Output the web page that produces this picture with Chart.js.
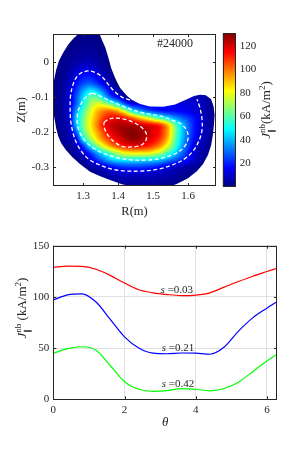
<!DOCTYPE html>
<html lang="en">
<head>
<meta charset="UTF-8">
<title>J_par nb - shot 24000</title>
<script src="https://cdn.jsdelivr.net/npm/chart.js"></script>
<style>
  body { margin: 0; background: #fff; }
  #wrap { position: relative; width: 291px; height: 449px; overflow: hidden; }
  canvas { position: absolute; }
  #top { left: 0; top: 0; }
  #cbar { left: 215px; top: 0; }
  #bot { left: 0; top: 230px; }
</style>
</head>
<body>
<div id="wrap">
  <canvas id="top" width="222" height="222"></canvas>
  <canvas id="cbar" width="76" height="222"></canvas>
  <canvas id="bot" width="291" height="219"></canvas>
</div>
<script>
// ---------- top panel: J_par^nb on the poloidal plane (kA/m^2), read on a 0.02 m grid
const gridR = [1.22, 1.24, 1.26, 1.28, 1.30, 1.32, 1.34, 1.36, 1.38, 1.40, 1.42, 1.44,
               1.46, 1.48, 1.50, 1.52, 1.54, 1.56, 1.58, 1.60, 1.62, 1.64, 1.66, 1.68];
const gridZ = [0.08, 0.06, 0.04, 0.02, 0, -0.02, -0.04, -0.06, -0.08, -0.10, -0.12, -0.14,
               -0.16, -0.18, -0.20, -0.22, -0.24, -0.26, -0.28, -0.30, -0.32, -0.34, -0.36];
const jGrid = [
  [1,1,1,1,2,2,1,1,1,1,1,1,1,1,1,1,1,1,1,1,1,1,1,1],
  [1,1,1,1,2,2,1,1,1,1,1,1,1,1,1,1,1,1,1,1,1,1,1,1],
  [1,1,1,2,3,3,2,1,1,1,1,1,1,1,1,1,1,1,1,1,1,1,1,1],
  [1,1,2,3,4,4,3,2,1,1,1,1,1,1,1,1,1,1,1,1,1,1,1,1],
  [1,2,3,5,7,7,5,3,1,1,1,1,1,1,1,1,1,1,1,1,1,1,1,1],
  [1,2,4,8,12,12,9,4,2,1,1,1,1,1,1,1,1,1,1,1,1,1,1,1],
  [1,2,6,13,18,19,14,9,3,1,1,1,1,1,1,1,1,1,1,1,1,1,1,1],
  [1,3,8,17,25,28,22,13,5,1,1,1,1,1,1,1,1,1,1,1,1,1,1,1],
  [1,3,10,22,36,45,40,27,13,5,1,1,1,1,1,1,1,1,1,1,1,1,1,1],
  [1,4,11,26,45,60,60,44,26,15,6,1,1,1,1,1,1,1,1,6,8,6,3,1],
  [1,4,11,28,50,68,78,74,62,48,28,16,14,14,14,14,14,14,12,12,11,8,4,1],
  [1,4,12,36,58,76,90,98,100,92,75,52,40,30,24,20,18,17,16,14,11,7,4,1],
  [1,4,11,42,62,80,95,108,114,116,112,102,90,80,68,58,48,38,30,24,17,10,5,1],
  [1,5,9,40,63,82,98,114,121,124,125,124,122,118,114,108,92,66,45,30,18,10,5,1],
  [1,3,7,28,60,78,93,108,118,124,128,130,128,124,118,112,96,70,46,30,18,10,5,1],
  [1,3,6,15,48,68,85,100,110,117,124,128,127,121,116,108,92,66,44,28,16,9,4,1],
  [1,1,3,8,22,47,66,82,96,106,112,115,115,112,106,96,80,60,40,25,12,6,3,1],
  [1,1,1,5,12,22,38,50,63,74,82,84,84,84,80,72,60,46,32,20,10,5,3,1],
  [1,1,1,2,4,12,22,32,42,47,49,49,48,47,45,42,35,28,22,16,9,4,2,1],
  [1,1,1,1,1,4,8,12,17,21,23,24,24,23,21,17,13,10,7,5,3,1,1,1],
  [1,1,1,1,1,1,2,5,7,9,10,10,10,10,9,8,7,5,4,2,1,1,1,1],
  [1,1,1,1,1,1,1,2,3,4,5,5,5,5,5,4,4,3,2,1,1,1,1,1],
  [1,1,1,1,1,1,1,1,2,2,3,3,3,3,3,2,2,1,1,1,1,1,1,1]
];
// outline of the plotted (crescent) region
const edgeR = [1.346,1.354,1.363,1.369,1.374,1.380,1.389,1.397,1.406,1.426,1.440,1.463,1.491,1.529,1.563,
               1.597,1.617,1.634,1.651,1.666,1.673,1.676,1.674,1.671,1.666,1.657,1.643,1.626,1.600,1.566,
               1.534,1.491,1.449,1.411,1.377,1.349,1.320,1.291,1.269,1.251,1.237,1.229,1.223,1.219,1.214,
               1.213,1.214,1.217,1.223,1.231,1.243,1.257,1.271,1.286,1.300,1.317,1.334];
const edgeZ = [0.084,0.064,0.044,0.024,0.007,-0.016,-0.039,-0.057,-0.074,-0.097,-0.108,-0.120,-0.127,-0.128,-0.121,
               -0.106,-0.097,-0.093,-0.095,-0.106,-0.126,-0.151,-0.180,-0.209,-0.238,-0.266,-0.292,-0.312,-0.333,-0.350,
               -0.360,-0.364,-0.358,-0.350,-0.338,-0.327,-0.314,-0.292,-0.272,-0.252,-0.232,-0.212,-0.189,-0.166,-0.137,
               -0.108,-0.080,-0.051,-0.022,0.004,0.027,0.050,0.067,0.081,0.093,0.100,0.097];
// white dashed contours
const outerR = [1.434,1.411,1.389,1.371,1.354,1.334,1.314,1.294,1.280,1.270,1.264,1.263,1.264,1.270,1.280,
                1.297,1.320,1.349,1.383,1.423,1.469,1.514,1.554,1.589,1.614,1.631,1.640,1.640,1.634,1.626];
const outerZ = [-0.108,-0.100,-0.083,-0.062,-0.042,-0.029,-0.025,-0.031,-0.045,-0.068,-0.097,-0.128,-0.163,-0.197,-0.229,
                -0.258,-0.281,-0.295,-0.307,-0.312,-0.312,-0.307,-0.295,-0.278,-0.255,-0.226,-0.195,-0.163,-0.131,-0.106];
const midR = [1.326,1.349,1.377,1.406,1.434,1.463,1.491,1.520,1.554,1.580,1.597,1.600,1.589,1.566,1.526,
              1.477,1.420,1.371,1.334,1.309,1.291,1.283,1.286,1.297,1.311,1.326];
const midZ = [-0.088,-0.097,-0.111,-0.123,-0.134,-0.143,-0.149,-0.154,-0.166,-0.177,-0.197,-0.220,-0.243,-0.261,-0.275,
              -0.281,-0.278,-0.266,-0.249,-0.229,-0.203,-0.172,-0.140,-0.114,-0.097,-0.088];
const innerR = [1.360,1.374,1.394,1.417,1.443,1.466,1.480,1.480,1.466,1.440,1.411,1.386,1.369,1.360,1.360];
const innerZ = [-0.172,-0.163,-0.160,-0.163,-0.172,-0.186,-0.203,-0.223,-0.238,-0.243,-0.241,-0.226,-0.206,-0.186,-0.172];
const rTicks = [1.3, 1.4, 1.5, 1.6];
const zTicks = [-0.3, -0.2, -0.1, 0];
const cbarMax = 131;
const cbarTicks = [20, 40, 60, 80, 100, 120];
const shotLabel = '#24000';

// ---------- bottom panel: J_par^nb along theta on three surfaces
const theta = [0, 0.4, 0.8, 1.2, 1.6, 2.0, 2.4, 2.8, 3.2, 3.6, 4.0, 4.4, 4.8, 5.2, 5.6, 6.0, 6.283];
const jS003 = [129, 130, 129.8, 127, 121, 113.5, 107, 104, 102.3, 101.3, 101.8, 104, 109.5, 115, 120.2, 124.8, 128];
const jS021 = [97, 102, 103, 95, 78, 61, 50, 45, 44.5, 45.2, 45, 44, 51, 66.5, 79.5, 89, 95.3];
const jS042 = [45, 49.5, 51.3, 48, 33, 17.2, 9.8, 7.8, 8.5, 10.5, 9.8, 8.3, 10.5, 16.7, 27, 37.5, 44];
const sNames = ['0.03', '0.21', '0.42'];
const sTheta = [3.47, 3.5, 3.5];
const sJ = [106.7, 49.8, 15];
const thTicks = [0, 2, 4, 6];
const jTicks = [0, 50, 100, 150];

const SERIF = '"Liberation Serif", "Times New Roman", serif';
const INK = '#262626';

function jet(t) {
  t = Math.min(1, Math.max(0, t));
  const f = v => Math.min(1, Math.max(0, 1.5 - Math.abs(v)));
  return [f(4 * t - 3), f(4 * t - 2), f(4 * t - 1)];
}
function cr(p0, p1, p2, p3, t) {
  return p1 + 0.5 * t * (p2 - p0 + t * (2 * p0 - 5 * p1 + 4 * p2 - p3 + t * (3 * (p1 - p2) + p3 - p0)));
}
function sampleJ(R, Z) {
  const nr = gridR.length, nz = gridZ.length;
  const gx = (R - gridR[0]) / (gridR[1] - gridR[0]);
  const gy = (Z - gridZ[0]) / (gridZ[1] - gridZ[0]);
  const ix = Math.floor(gx), iy = Math.floor(gy);
  const tx = gx - ix, ty = gy - iy;
  const g = (i, j) => jGrid[Math.min(nz - 1, Math.max(0, j))][Math.min(nr - 1, Math.max(0, i))];
  const col = [];
  for (let m = -1; m <= 2; m++) col.push(cr(g(ix - 1, iy + m), g(ix, iy + m), g(ix + 1, iy + m), g(ix + 2, iy + m), tx));
  return Math.max(0, cr(col[0], col[1], col[2], col[3], ty));
}

// text with sub/superscripts, parts: {t, sz, it, dy, stack}
function drawRich(ctx, parts, cx, cy, rot) {
  let x = 0, prev = null;
  const items = parts.map(p => {
    ctx.font = (p.it ? 'italic ' : '') + p.sz + 'px ' + SERIF;
    const w = ctx.measureText(p.t).width;
    const start = p.stack && prev ? prev.start : x;
    x = Math.max(x, start + w);
    prev = {p, start};
    return prev;
  });
  ctx.save();
  ctx.translate(cx, cy);
  ctx.rotate(rot);
  ctx.fillStyle = INK;
  ctx.textAlign = 'left';
  ctx.textBaseline = 'alphabetic';
  items.forEach(it => {
    ctx.font = (it.p.it ? 'italic ' : '') + it.p.sz + 'px ' + SERIF;
    ctx.fillText(it.p.t, it.start - x / 2, 4 + (it.p.dy || 0));
  });
  ctx.restore();
}
const jLabel = sp => [
  {t: 'J', sz: 13, it: true},
  {t: 'nb', sz: 9, dy: -5.5},
  {t: '\u2225', sz: 8, dy: 3.5, stack: true},
  {t: sp + '(kA/m', sz: 13},
  {t: '2', sz: 9, dy: -5.5},
  {t: ')', sz: 13}
];

const heatPlugin = {
  id: 'heat',
  beforeDatasetsDraw(chart) {
    const {ctx, chartArea: a, scales: {x, y}} = chart;
    const x0 = Math.floor(a.left), y0 = Math.floor(a.top);
    const w = Math.ceil(a.right) - x0, h = Math.ceil(a.bottom) - y0;
    const off = document.createElement('canvas');
    off.width = w; off.height = h;
    const octx = off.getContext('2d');
    const img = octx.createImageData(w, h);
    for (let py = 0; py < h; py++) {
      const Z = y.getValueForPixel(y0 + py + 0.5);
      for (let px = 0; px < w; px++) {
        const R = x.getValueForPixel(x0 + px + 0.5);
        const c = jet(sampleJ(R, Z) / cbarMax);
        const k = (py * w + px) * 4;
        img.data[k] = c[0] * 255; img.data[k + 1] = c[1] * 255; img.data[k + 2] = c[2] * 255; img.data[k + 3] = 255;
      }
    }
    octx.putImageData(img, 0, 0);
    ctx.save();
    ctx.beginPath();
    ctx.rect(a.left, a.top, a.right - a.left, a.bottom - a.top);
    ctx.clip();
    ctx.beginPath();
    edgeR.forEach((r, i) => {
      const px = x.getPixelForValue(r), py = y.getPixelForValue(edgeZ[i]);
      i ? ctx.lineTo(px, py) : ctx.moveTo(px, py);
    });
    ctx.closePath();
    ctx.clip();
    ctx.drawImage(off, x0, y0);
    ctx.restore();
  }
};

// axes box with inward tick marks on all four sides
const framePlugin = {
  id: 'frame',
  afterDatasetsDraw(chart, args, opts) {
    const {ctx, chartArea: a, scales} = chart;
    const L = 3;
    ctx.save();
    ctx.strokeStyle = INK;
    ctx.lineWidth = 1;
    ctx.beginPath();
    if (opts.ticks) {
      scales.x.ticks.forEach(t => {
        const p = Math.round(scales.x.getPixelForValue(t.value)) + 0.5;
        ctx.moveTo(p, a.bottom); ctx.lineTo(p, a.bottom - L);
        ctx.moveTo(p, a.top); ctx.lineTo(p, a.top + L);
      });
      scales.y.ticks.forEach(t => {
        const p = Math.round(scales.y.getPixelForValue(t.value)) + 0.5;
        ctx.moveTo(a.left, p); ctx.lineTo(a.left + L, p);
        ctx.moveTo(a.right, p); ctx.lineTo(a.right - L, p);
      });
    }
    ctx.stroke();
    ctx.strokeRect(Math.round(a.left) + 0.5, Math.round(a.top) + 0.5,
                   Math.round(a.right - a.left) - 1, Math.round(a.bottom - a.top) - 1);
    ctx.restore();
  }
};

const contourDs = (rs, zs) => ({
  data: rs.map((r, i) => ({x: r, y: zs[i]})),
  showLine: true, borderColor: '#ffffff', borderWidth: 1.3, borderDash: [4, 2.5],
  pointRadius: 0, tension: 0.35, fill: false
});

const notePlugin = {
  id: 'note',
  afterDraw(chart) {
    const {ctx, scales: {x, y}} = chart;
    ctx.save();
    ctx.font = '12px ' + SERIF;
    ctx.fillStyle = INK;
    ctx.textAlign = 'center';
    ctx.textBaseline = 'middle';
    ctx.fillText(shotLabel, x.getPixelForValue(1.563), y.getPixelForValue(0.053));
    ctx.restore();
  }
};

new Chart(document.getElementById('top'), {
  type: 'scatter',
  data: {datasets: [contourDs(outerR, outerZ), contourDs(midR, midZ), contourDs(innerR, innerZ)]},
  options: {
    responsive: false, devicePixelRatio: 1, animation: false,
    layout: {padding: {left: 0, top: 34, right: 6, bottom: 0}},
    plugins: {legend: {display: false}, tooltip: {enabled: false}, frame: {ticks: true}},
    scales: {
      x: {
        type: 'linear', min: 1.214, max: 1.680,
        afterBuildTicks: s => { s.ticks = rTicks.map(v => ({value: v})); },
        afterFit: s => { s.height = 36; },
        grid: {display: false, drawTicks: false}, border: {display: false},
        ticks: {padding: 4, color: INK, font: {size: 11, family: SERIF}, callback: v => v.toFixed(1)},
        title: {display: true, text: 'R(m)', color: INK, font: {size: 12.5, family: SERIF}, padding: {top: 0, bottom: 2.5}}
      },
      y: {
        type: 'linear', min: -0.355, max: 0.081,
        afterBuildTicks: s => { s.ticks = zTicks.map(v => ({value: v})); },
        afterFit: s => { s.width = 53; },
        grid: {display: false, drawTicks: false}, border: {display: false},
        ticks: {padding: 4, color: INK, font: {size: 11, family: SERIF}, callback: v => v === 0 ? '0' : v.toFixed(1)},
        title: {display: true, text: 'Z(m)', color: INK, font: {size: 12.5, family: SERIF}, padding: {top: 14.5, bottom: 0}}
      }
    }
  },
  plugins: [heatPlugin, framePlugin, notePlugin]
});

// colour bar
const cbarLabel = {
  id: 'cbarLabel',
  afterDraw(chart) { drawRich(chart.ctx, jLabel(''), 51, 110, -Math.PI / 2); }
};
new Chart(document.getElementById('cbar'), {
  type: 'bar',
  data: {labels: [''], datasets: [{
    data: [[0, cbarMax]], borderWidth: 0, barPercentage: 1, categoryPercentage: 1,
    backgroundColor: c => {
      const a = c.chart.chartArea;
      if (!a) return '#000080';
      const g = c.chart.ctx.createLinearGradient(0, a.bottom, 0, a.top);
      for (let i = 0; i <= 40; i++) {
        const col = jet(i / 40);
        g.addColorStop(i / 40, `rgb(${col[0] * 255},${col[1] * 255},${col[2] * 255})`);
      }
      return g;
    }
  }]},
  options: {
    responsive: false, devicePixelRatio: 1, animation: false,
    layout: {padding: {left: 7.7, top: 33, right: 0, bottom: 35.3}},
    plugins: {legend: {display: false}, tooltip: {enabled: false}, frame: {ticks: false}},
    scales: {
      x: {display: false},
      y: {
        position: 'right', min: 0, max: cbarMax,
        afterBuildTicks: s => { s.ticks = cbarTicks.map(v => ({value: v})); },
        afterFit: s => { s.width = 55.3; },
        grid: {display: false, drawTicks: false}, border: {display: false},
        ticks: {padding: 4, color: INK, font: {size: 11, family: SERIF}}
      }
    }
  },
  plugins: [framePlugin, cbarLabel]
});

// bottom panel
const sLabelPlugin = {
  id: 'sLabels',
  afterDatasetsDraw(chart) {
    const {ctx, scales: {x, y}} = chart;
    ctx.save();
    ctx.fillStyle = INK;
    ctx.textBaseline = 'middle';
    sNames.forEach((n, i) => {
      const cx = x.getPixelForValue(sTheta[i]), cy = y.getPixelForValue(sJ[i]);
      ctx.font = 'italic 11px ' + SERIF;
      const w1 = ctx.measureText('s').width;
      ctx.font = '11px ' + SERIF;
      const rest = ' =' + n;
      const w2 = ctx.measureText(rest).width;
      const x0 = cx - (w1 + w2) / 2;
      ctx.font = 'italic 11px ' + SERIF;
      ctx.fillText('s', x0, cy);
      ctx.font = '11px ' + SERIF;
      ctx.fillText(rest, x0 + w1, cy);
    });
    ctx.restore();
    drawRich(ctx, jLabel(' '), 22, 78, -Math.PI / 2);
  }
};
const curve = (vals, col) => ({
  data: theta.map((t, i) => ({x: t, y: vals[i]})),
  borderColor: col, borderWidth: 1.2, pointRadius: 0, fill: false, cubicInterpolationMode: 'monotone'
});
new Chart(document.getElementById('bot'), {
  type: 'line',
  data: {datasets: [curve(jS003, '#ff0000'), curve(jS021, '#0000ff'), curve(jS042, '#00ff00')]},
  options: {
    responsive: false, devicePixelRatio: 1, animation: false,
    layout: {padding: {left: 0, top: 15.7, right: 14, bottom: 0}},
    plugins: {legend: {display: false}, tooltip: {enabled: false}, frame: {ticks: true}},
    scales: {
      x: {
        type: 'linear', min: 0, max: 2 * Math.PI,
        afterBuildTicks: s => { s.ticks = thTicks.map(v => ({value: v})); },
        afterFit: s => { s.height = 49.7; },
        grid: {color: '#e0e0e0', drawTicks: false}, border: {display: false},
        ticks: {padding: 4, color: INK, font: {size: 11, family: SERIF}},
        title: {display: true, text: '\u03b8', color: INK, font: {size: 13, style: 'italic', family: SERIF}, padding: {top: 0, bottom: 18.2}}
      },
      y: {
        type: 'linear', min: 0, max: 150,
        afterBuildTicks: s => { s.ticks = jTicks.map(v => ({value: v})); },
        afterFit: s => { s.width = 53.3; },
        grid: {color: '#e0e0e0', drawTicks: false}, border: {display: false},
        ticks: {padding: 4, color: INK, font: {size: 11, family: SERIF}}
      }
    }
  },
  plugins: [framePlugin, sLabelPlugin]
});
</script>
</body>
</html>
